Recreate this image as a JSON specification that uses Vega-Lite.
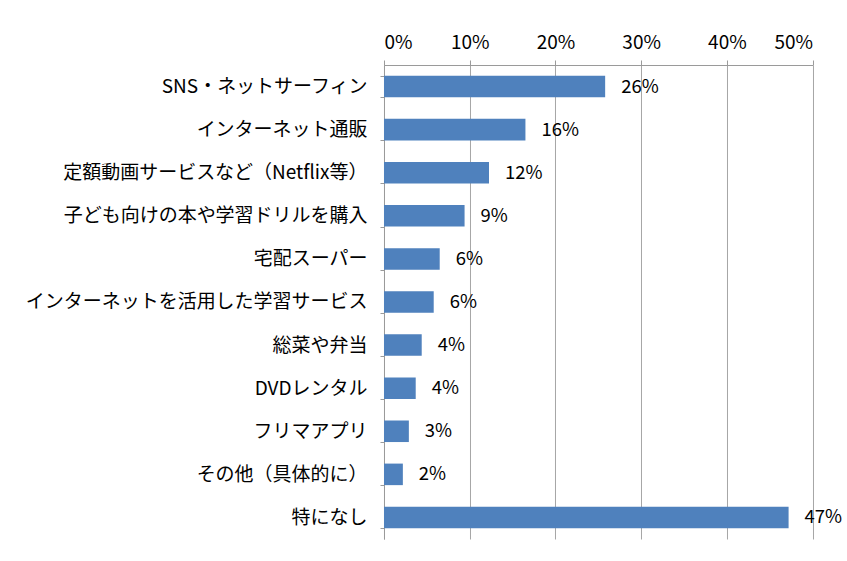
{
  "$schema": "https://vega.github.io/schema/vega-lite/v6.json",
  "autosize": {"type": "none"},
  "padding": {"left": 384, "top": 65, "right": 34, "bottom": 22},
  "width": 428.6,
  "height": 474,
  "background": "white",
  "config": {
    "view": {"stroke": null},
    "font": "Noto Sans CJK JP"
  },
  "data": {
    "values": [
      {"item": "SNS・ネットサーフィン", "value": 0.258, "label": "26%"},
      {"item": "インターネット通販", "value": 0.165, "label": "16%"},
      {"item": "定額動画サービスなど（Netflix等）", "value": 0.1225, "label": "12%"},
      {"item": "子ども向けの本や学習ドリルを購入", "value": 0.094, "label": "9%"},
      {"item": "宅配スーパー", "value": 0.065, "label": "6%"},
      {"item": "インターネットを活用した学習サービス", "value": 0.058, "label": "6%"},
      {"item": "総菜や弁当", "value": 0.044, "label": "4%"},
      {"item": "DVDレンタル", "value": 0.037, "label": "4%"},
      {"item": "フリマアプリ", "value": 0.029, "label": "3%"},
      {"item": "その他（具体的に）", "value": 0.022, "label": "2%"},
      {"item": "特になし", "value": 0.472, "label": "47%"}
    ]
  },
  "encoding": {
    "y": {
      "field": "item",
      "type": "nominal",
      "sort": null,
      "title": null,
      "scale": {"paddingInner": 0.5, "paddingOuter": 0.25},
      "axis": {
        "orient": "left",
        "tickBand": "extent",
        "domainColor": "#9a9a9a",
        "tickColor": "#9a9a9a",
        "tickSize": 4,
        "labelPadding": 13,
        "labelFontSize": 19,
        "labelColor": "#000000",
        "labelFont": "Noto Sans CJK JP",
        "labelLimit": 500
      }
    }
  },
  "layer": [
    {
      "mark": {"type": "bar", "color": "#4F81BD"},
      "encoding": {
        "x": {
          "field": "value",
          "type": "quantitative",
          "title": null,
          "scale": {"domain": [0, 0.5], "nice": false},
          "axis": {
            "orient": "top",
            "values": [0, 0.1, 0.2, 0.3, 0.4, 0.5],
            "format": ".0%",
            "grid": true,
            "gridColor": "#a6a6a6",
            "domainColor": "#9a9a9a",
            "tickColor": "#9a9a9a",
            "tickSize": 5,
            "labelPadding": 8,
            "labelFontSize": 19,
            "labelFont": "Noto Sans CJK JP",
            "labelColor": "#000000"
          }
        }
      }
    },
    {
      "mark": {
        "type": "text",
        "align": "left",
        "baseline": "middle",
        "dx": 16,
        "fontSize": 18.5,
        "font": "Noto Sans CJK JP",
        "color": "#000000"
      },
      "encoding": {
        "x": {"field": "value", "type": "quantitative"},
        "text": {"field": "label"}
      }
    }
  ]
}
